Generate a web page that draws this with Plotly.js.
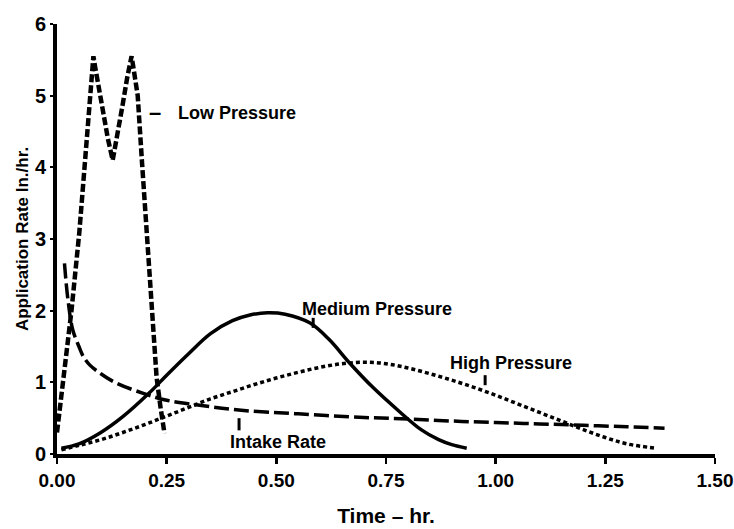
<!DOCTYPE html>
<html>
<head>
<meta charset="utf-8">
<script src="https://cdn.plot.ly/plotly-3.0.1.min.js"></script>
<style>html,body{margin:0;padding:0;background:#fff;}#chart{width:734px;height:529px;}</style>
</head>
<body>
<div id="chart"></div>
<script>
// ---- data ----
const lowT = [0.0, 0.017, 0.033, 0.051, 0.066, 0.077, 0.080, 0.083, 0.087, 0.095, 0.105, 0.116, 0.127, 0.138, 0.149, 0.160, 0.167, 0.170, 0.174, 0.184, 0.194, 0.204, 0.216, 0.227, 0.236, 0.245];
const lowY = [0.30, 1.20, 2.00, 3.10, 4.20, 5.00, 5.35, 5.55, 5.40, 5.10, 4.75, 4.40, 4.10, 4.45, 4.85, 5.25, 5.45, 5.55, 5.40, 5.00, 4.05, 3.10, 2.00, 1.07, 0.65, 0.29];

const intakeT = [0.017, 0.025, 0.036, 0.050, 0.060, 0.075, 0.100, 0.135, 0.200, 0.250, 0.325, 0.420, 0.550, 0.700, 0.800, 0.900, 1.000, 1.100, 1.200, 1.300, 1.385];
const intakeY = [2.66, 2.15, 1.73, 1.50, 1.36, 1.24, 1.12, 0.99, 0.84, 0.75, 0.68, 0.61, 0.56, 0.51, 0.49, 0.46, 0.44, 0.42, 0.40, 0.38, 0.36];

const mediumT = [0.010, 0.050, 0.100, 0.150, 0.210, 0.250, 0.300, 0.350, 0.400, 0.440, 0.480, 0.520, 0.576, 0.620, 0.667, 0.720, 0.781, 0.830, 0.870, 0.900, 0.934];
const mediumY = [0.08, 0.14, 0.30, 0.52, 0.85, 1.10, 1.40, 1.68, 1.86, 1.94, 1.97, 1.95, 1.83, 1.60, 1.27, 0.93, 0.59, 0.34, 0.20, 0.13, 0.08];

const highT = [0.010, 0.050, 0.100, 0.150, 0.200, 0.250, 0.300, 0.350, 0.400, 0.450, 0.500, 0.550, 0.600, 0.650, 0.700, 0.750, 0.800, 0.850, 0.900, 0.950, 1.000, 1.050, 1.100, 1.150, 1.200, 1.250, 1.300, 1.367];
const highY = [0.06, 0.12, 0.20, 0.30, 0.41, 0.53, 0.65, 0.77, 0.87, 0.97, 1.06, 1.14, 1.21, 1.26, 1.28, 1.26, 1.20, 1.12, 1.03, 0.93, 0.82, 0.70, 0.58, 0.46, 0.34, 0.23, 0.14, 0.08];

const xTicks = [0, 0.25, 0.5, 0.75, 1.0, 1.25, 1.5];
const xTickText = ["0.00", "0.25", "0.50", "0.75", "1.00", "1.25", "1.50"];
const yTicks = [0, 1, 2, 3, 4, 5, 6];

const seriesNames = ["Low Pressure", "Intake Rate", "Medium Pressure", "High Pressure"];
const xTitle = "Time \u2013 hr.";
const yTitle = "Application Rate In./hr.";

// ---- drawing ----
const FONT = '"Liberation Sans", Arial, sans-serif';

const traces = [
  {x: lowT, y: lowY, name: seriesNames[0], mode: 'lines', line: {color: '#000', width: 4.5, dash: '8px,3px', shape: 'linear'}},
  {x: intakeT, y: intakeY, name: seriesNames[1], mode: 'lines', line: {color: '#000', width: 3.5, dash: '15px,5px', shape: 'spline', smoothing: 1}},
  {x: mediumT, y: mediumY, name: seriesNames[2], mode: 'lines', line: {color: '#000', width: 3.5, shape: 'spline', smoothing: 1}},
  {x: highT, y: highY, name: seriesNames[3], mode: 'lines', line: {color: '#000', width: 3.5, dash: '4px,3px', shape: 'spline', smoothing: 1}}
];

const annFont = {family: FONT, size: 18, color: '#000', weight: 'bold'};
const layout = {
  width: 734, height: 529,
  margin: {l: 57, r: 19, t: 24, b: 75},
  paper_bgcolor: '#fff', plot_bgcolor: '#fff',
  showlegend: false,
  font: {family: FONT, color: '#000', weight: 'bold'},
  xaxis: {
    range: [0, 1.5], tickvals: xTicks, ticktext: xTickText,
    showgrid: false, zeroline: false, showline: true, linecolor: '#000', linewidth: 4,
    ticks: 'outside', ticklen: 6, tickwidth: 2.5, tickcolor: '#000',
    ticklabeloverflow: 'allow',
    tickfont: {family: FONT, size: 19, color: '#000', weight: 'bold'},
    title: {text: xTitle, font: {family: FONT, size: 21, color: '#000', weight: 'bold'}, standoff: 20}
  },
  yaxis: {
    range: [0, 6], tickvals: yTicks,
    showgrid: false, zeroline: false, showline: true, linecolor: '#000', linewidth: 4,
    ticks: 'outside', ticklen: 3, tickwidth: 2, tickcolor: '#000',
    ticklabeloverflow: 'allow',
    tickfont: {family: FONT, size: 20, color: '#000', weight: 'bold'},
    title: {text: yTitle, font: {family: FONT, size: 17, color: '#000', weight: 'bold'}, standoff: 3}
  },
  annotations: [
    {x: 0.224, y: 4.76, xref: 'x', yref: 'y', text: '\u2013', showarrow: false, xanchor: 'center', yanchor: 'middle', font: {family: FONT, size: 22, color: '#000', weight: 'bold'}},
    {x: 0.271, y: 4.76, xref: 'x', yref: 'y', text: seriesNames[0], showarrow: false, xanchor: 'left', yanchor: 'middle', font: annFont},
    {x: 0.554, y: 2.02, xref: 'x', yref: 'y', text: seriesNames[2], showarrow: false, xanchor: 'left', yanchor: 'middle', font: annFont},
    {x: 0.891, y: 1.27, xref: 'x', yref: 'y', text: seriesNames[3], showarrow: false, xanchor: 'left', yanchor: 'middle', font: annFont},
    {x: 0.390, y: 0.17, xref: 'x', yref: 'y', text: seriesNames[1], showarrow: false, xanchor: 'left', yanchor: 'middle', font: annFont}
  ],
  shapes: [
    {type: 'line', xref: 'x', yref: 'y', x0: 0.584, x1: 0.584, y0: 1.90, y1: 1.76, line: {color: '#000', width: 3}},
    {type: 'line', xref: 'x', yref: 'y', x0: 0.976, x1: 0.976, y0: 1.10, y1: 0.96, line: {color: '#000', width: 3}},
    {type: 'line', xref: 'x', yref: 'y', x0: 0.415, x1: 0.415, y0: 0.50, y1: 0.33, line: {color: '#000', width: 3}}
  ]
};

Plotly.newPlot('chart', traces, layout, {displayModeBar: false, staticPlot: true});
</script>
</body>
</html>
